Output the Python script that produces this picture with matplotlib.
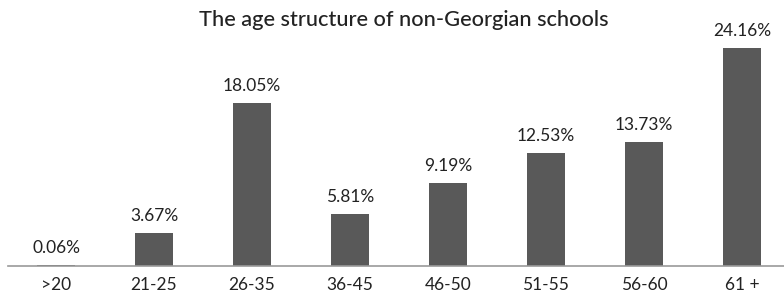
import matplotlib.pyplot as plt

# age groups and share of teachers
categories = ['>20', '21-25', '26-35', '36-45', '46-50', '51-55', '56-60', '61 +']
values = [0.06, 3.67, 18.05, 5.81, 9.19, 12.53, 13.73, 24.16]
labels = ['0.06%', '3.67%', '18.05%', '5.81%', '9.19%', '12.53%', '13.73%', '24.16%']

plt.rcParams['font.family'] = ['Lato', 'DejaVu Sans']

fig = plt.figure(figsize=(7.84, 3.01), dpi=100)
ax = fig.add_axes([8 / 784, 35 / 301, 1 - 8 / 784, 1 - 35 / 301 - 30 / 301])

x = range(len(categories))
ax.bar(x, values, width=0.39, color='#595959')

for i, v in enumerate(values):
    ax.text(i, v + 1.0, labels[i], ha='center', va='bottom', fontsize=12.5, color='#222222')

ax.set_xlim(-0.49, 7.43)
ax.set_ylim(0, 26.2)
ax.set_xticks(list(x))
ax.set_xticklabels(categories, fontsize=12.5, color='#222222')
ax.tick_params(axis='x', length=0, pad=8)
ax.set_yticks([])
for s in ['top', 'right', 'left']:
    ax.spines[s].set_visible(False)
ax.spines['bottom'].set_color('#999999')
ax.spines['bottom'].set_linewidth(1.2)

fig.text(404 / 784, 1 - 20 / 301, 'The age structure of non-Georgian schools',
         ha='center', va='center', fontsize=15.7, color='#222222', fontweight='medium')

plt.savefig('out.png', dpi=100)
